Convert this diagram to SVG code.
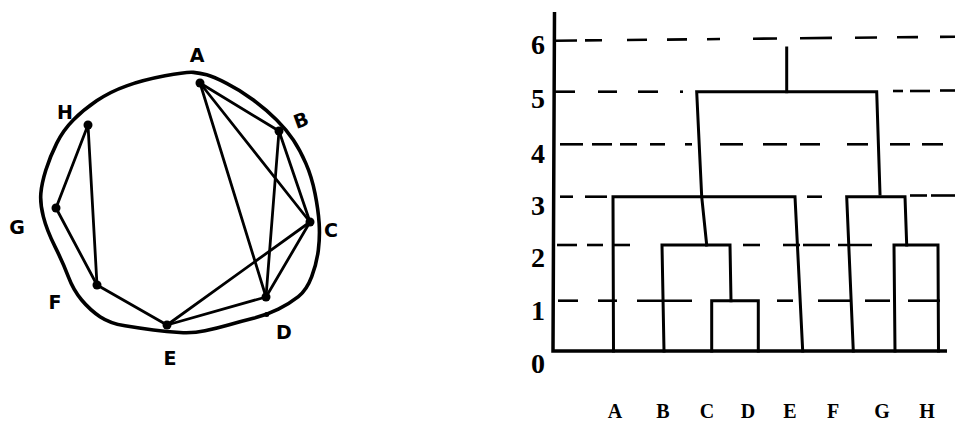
<svg xmlns="http://www.w3.org/2000/svg" width="955" height="425" viewBox="0 0 955 425">
<style>
.circ{fill:none;stroke:#000;stroke-width:3.6;stroke-linejoin:round}
.edge{stroke:#000;stroke-width:2.8;stroke-linecap:round}
.dot{fill:#000}
.hl{font-family:"DejaVu Sans","Liberation Sans",sans-serif;font-weight:bold;font-size:19px;text-anchor:middle;fill:#000}
.tree{stroke:#000;stroke-width:3;fill:none;stroke-linecap:square}
.axis{stroke:#000;stroke-width:3.5;fill:none}
.dash{stroke:#000;stroke-width:2.6;stroke-linecap:butt}
.num{font-family:"Liberation Serif","Times New Roman",serif;font-weight:bold;font-size:28px;text-anchor:middle;fill:#000}
.leaf{font-family:"Liberation Serif","Times New Roman",serif;font-weight:bold;font-size:20px;text-anchor:middle;fill:#000}
</style>
<rect width="955" height="425" fill="#fff"/>

<!-- left: outer ring -->
<path class="circ" d="M165,75.85 Q186.7,71.7 193.35,72.35 Q200,73 206.65,74.85 Q213.3,76.7 226.65,83.35 Q240,90 253.35,100 Q266.7,110 276.7,120 Q286.7,130 293.35,140 Q300,150 305.85,163.35 Q311.7,176.7 315,193.35 Q318.3,210 319.15,223.35 Q320,236.7 318.35,250 Q316.7,263.3 311.7,276.65 Q306.7,290 298.35,296.65 Q290,303.3 278.35,309.15 Q266.7,315 253.35,318.35 Q240,321.7 228.35,325 Q216.7,328.3 205,330.8 Q193.3,333.3 180,332.5 Q166.7,331.7 153.35,330 Q140,328.3 125,325.8 Q110,323.3 100,316.65 Q90,310 81.65,300 Q73.3,290 68.3,276.65 Q63.3,263.3 55,246.65 Q46.7,230 43.35,216.65 Q40,203.3 40.85,193.3 Q41.7,183.3 45.85,170 Q50,156.7 56.65,143.35 Q63.3,130 73.3,120 Q83.3,110 96.65,100.85 Q110,91.7 126.65,85.85 Q143.3,80 165,75.85 Z"/>
<circle class="dot" cx="266.7" cy="314.5" r="2.5"/>

<g id="connectors">
<line class="edge" x1="200" y1="83" x2="279" y2="131"/>
<line class="edge" x1="200" y1="83" x2="310" y2="222"/>
<line class="edge" x1="200" y1="83" x2="266" y2="297"/>
<line class="edge" x1="279" y1="131" x2="310" y2="222"/>
<line class="edge" x1="279" y1="131" x2="266" y2="297"/>
<line class="edge" x1="310" y1="222" x2="266" y2="297"/>
<line class="edge" x1="310" y1="222" x2="167" y2="325"/>
<line class="edge" x1="266" y1="297" x2="167" y2="325"/>
<line class="edge" x1="167" y1="325" x2="97" y2="285"/>
<line class="edge" x1="97" y1="285" x2="88" y2="125"/>
<line class="edge" x1="88" y1="125" x2="56" y2="208"/>
<line class="edge" x1="56" y1="208" x2="97" y2="285"/>
</g>

<g id="node-A"><circle class="dot" cx="200" cy="83" r="4.5"/><text class="hl" x="197" y="62">A</text></g>
<g id="node-B"><circle class="dot" cx="279" cy="131" r="4.5"/><text class="hl" x="301" y="127" transform="rotate(-20 301 120)">B</text></g>
<g id="node-C"><circle class="dot" cx="310" cy="222" r="4.5"/><text class="hl" x="331" y="237">C</text></g>
<g id="node-D"><circle class="dot" cx="266" cy="297" r="4.5"/><text class="hl" x="284" y="339">D</text></g>
<g id="node-E"><circle class="dot" cx="167" cy="325" r="4.5"/><text class="hl" x="170" y="365">E</text></g>
<g id="node-F"><circle class="dot" cx="97" cy="285" r="4.5"/><text class="hl" x="55" y="309">F</text></g>
<g id="node-G"><circle class="dot" cx="56" cy="208" r="4.5"/><text class="hl" x="17" y="234">G</text></g>
<g id="node-H"><circle class="dot" cx="88" cy="125" r="4.5"/><text class="hl" x="65" y="119">H</text></g>

<!-- right: dendrogram -->
<g id="grid">
<g class="dash">
<line x1="555" y1="40.7" x2="577" y2="40.5"/><line x1="585" y1="40.4" x2="602" y2="40.2"/><line x1="627" y1="40" x2="647" y2="39.8"/><line x1="667" y1="39.6" x2="687" y2="39.4"/><line x1="707" y1="39.2" x2="720" y2="39"/><line x1="753" y1="38.7" x2="777" y2="38.5"/><line x1="800" y1="38.2" x2="832" y2="37.9"/><line x1="855" y1="37.7" x2="877" y2="37.5"/><line x1="897" y1="37.3" x2="918" y2="37.1"/><line x1="940" y1="36.9" x2="955" y2="36.7"/>
<line x1="555" y1="91.7" x2="575" y2="91.7"/><line x1="598" y1="91.7" x2="617" y2="91.7"/><line x1="638" y1="91.7" x2="658" y2="91.7"/><line x1="680" y1="91.7" x2="683" y2="91.7"/><line x1="893" y1="91" x2="903" y2="91"/><line x1="910" y1="91" x2="930" y2="91"/><line x1="940" y1="90.5" x2="955" y2="90.5"/>
<line x1="560" y1="144.3" x2="583" y2="144.3"/><line x1="592" y1="144.3" x2="612" y2="144.3"/><line x1="620" y1="144.3" x2="637" y2="144.3"/><line x1="650" y1="144.3" x2="665" y2="144.3"/><line x1="685" y1="144.3" x2="692" y2="144.3"/><line x1="720" y1="144.3" x2="743" y2="144.3"/><line x1="763" y1="144.3" x2="787" y2="144.3"/><line x1="800" y1="144.3" x2="820" y2="144.3"/><line x1="847" y1="144.3" x2="868" y2="144.3"/><line x1="890" y1="144.3" x2="910" y2="144.3"/><line x1="922" y1="144.3" x2="943" y2="144.3"/>
<line x1="560" y1="196.7" x2="573" y2="196.7"/><line x1="585" y1="196.7" x2="607" y2="196.7"/><line x1="807" y1="196.7" x2="822" y2="196.7"/><line x1="910" y1="195.5" x2="927" y2="195.5"/><line x1="931" y1="195.5" x2="955" y2="195.5"/>
<line x1="557" y1="245" x2="577" y2="245"/><line x1="587" y1="245" x2="603" y2="245"/><line x1="613" y1="245" x2="630" y2="245"/><line x1="743" y1="245" x2="760" y2="245"/><line x1="783" y1="245" x2="800" y2="245"/><line x1="803" y1="245" x2="830" y2="245"/><line x1="838" y1="245" x2="872" y2="245"/>
<line x1="558" y1="300.7" x2="578" y2="300.7"/><line x1="598" y1="300.7" x2="617" y2="300.7"/><line x1="637" y1="300.7" x2="692" y2="300.7"/><line x1="777" y1="300.7" x2="793" y2="300.7"/><line x1="818" y1="300.7" x2="850" y2="300.7"/><line x1="865" y1="300.7" x2="890" y2="300.7"/><line x1="908" y1="300.7" x2="940" y2="300.7"/>
</g>
</g>

<g id="axis">
<path class="axis" d="M554.5,12 L553,351 L947,351"/>
<text class="num" x="538" y="54">6</text>
<text class="num" x="538" y="108">5</text>
<text class="num" x="538" y="163">4</text>
<text class="num" x="538" y="215">3</text>
<text class="num" x="538" y="267">2</text>
<text class="num" x="538" y="320">1</text>
<text class="num" x="538" y="373">0</text>
</g>

<g id="dendrogram">
<path class="tree" d="M711.7,351 L711.7,300.7 L758.3,300.7 L758.3,351"/>
<path class="tree" d="M664,351 L662,245 L730,245 L731,300.7"/>
<path class="tree" d="M613.5,351 L613,196.7 L795,196.7 L802.7,351"/>
<path class="tree" d="M706.7,245 L701.7,196.7 L696.7,91.7 L876.7,91.7 L880,194"/>
<path class="tree" d="M786.7,48 L786.7,91.7"/>
<path class="tree" d="M895,351 L894,245 L938,245 L938.5,351"/>
<path class="tree" d="M853.3,351 L846.7,196.7 L905,196.7 L906.7,245"/>
</g>

<g id="leaves">
<text class="leaf" x="615" y="418">A</text>
<text class="leaf" x="663" y="418">B</text>
<text class="leaf" x="707" y="418">C</text>
<text class="leaf" x="748" y="418">D</text>
<text class="leaf" x="790" y="418">E</text>
<text class="leaf" x="833" y="418">F</text>
<text class="leaf" x="882" y="418">G</text>
<text class="leaf" x="927" y="418">H</text>
</g>
</svg>
